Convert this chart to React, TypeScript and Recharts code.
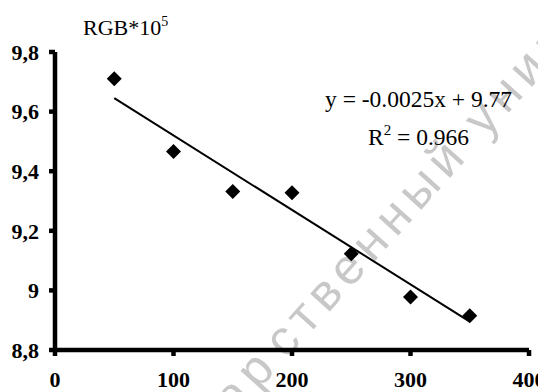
import { ComposedChart, Scatter, XAxis, YAxis } from 'recharts';

const xValues = [50, 100, 150, 200, 250, 300, 350];
const rgbValues = [9.71, 9.466, 9.332, 9.328, 9.123, 8.978, 8.915];
const trendX = [50, 350];
const trendY = [9.645, 8.895];
const xTicks = [0, 100, 200, 300, 400];
const yTicks = [8.8, 9, 9.2, 9.4, 9.6, 9.8];

const points = xValues.map((x, i) => ({ x, y: rgbValues[i] }));
const trend = trendX.map((x, i) => ({ x, y: trendY[i] }));

const serif = '"Liberation Serif", "Times New Roman", serif';

function Diamond({ cx, cy }: { cx?: number; cy?: number }) {
  if (cx == null || cy == null) return null;
  const r = 7.5;
  return (
    <polygon
      points={`${cx},${cy - r} ${cx + r},${cy} ${cx},${cy + r} ${cx - r},${cy}`}
      fill="#000"
    />
  );
}

const tickStyle = {
  fontFamily: serif,
  fontSize: 22,
  fontWeight: 700,
  fill: '#000',
};

// watermark behind the chart
const wmX = 286;
const wmY = 360;
const wmStyle = {
  fontFamily: '"Liberation Sans", Arial, sans-serif',
  fontSize: 50,
  letterSpacing: 7,
};

function App() {
  return (
    <div style={{ position: 'relative', margin: '-8px 0 0 -8px', width: 546, height: 392 }}>
      <svg width={546} height={392} style={{ position: 'absolute', left: 0, top: 0 }}>
        <g transform={`rotate(-48, ${wmX}, ${wmY})`} fill="#c8c8c8">
          <text x={wmX - 7} y={wmY} textAnchor="end" style={wmStyle}>
            государ
          </text>
          <text x={wmX} y={wmY} style={wmStyle}>
            ственный университет
          </text>
        </g>
      </svg>
      <ComposedChart
        width={546}
        height={392}
        margin={{ top: 52, right: 17, bottom: 0, left: 0 }}
        style={{ position: 'absolute', left: 0, top: 0 }}
      >
        <XAxis
          dataKey="x"
          type="number"
          domain={[0, 400]}
          ticks={xTicks}
          height={42}
          tickSize={6}
          tickMargin={15}
          stroke="#000"
          strokeWidth={4.5}
          tick={tickStyle}
          interval={0}
        />
        <YAxis
          dataKey="y"
          type="number"
          domain={[8.8, 9.8]}
          ticks={yTicks}
          width={55}
          tickSize={6}
          tickMargin={10}
          stroke="#000"
          strokeWidth={4.5}
          tick={tickStyle}
          interval={0}
          tickFormatter={(v: number) => String(Math.round(v * 10) / 10).replace('.', ',')}
        />
        <Scatter
          data={trend}
          line={{ stroke: '#000', strokeWidth: 2 }}
          shape={() => null}
          isAnimationActive={false}
        />
        <Scatter data={points} shape={<Diamond />} isAnimationActive={false} />
      </ComposedChart>
      <div
        style={{
          position: 'absolute',
          left: 83,
          top: 17,
          fontFamily: serif,
          fontSize: 22,
          whiteSpace: 'nowrap',
          lineHeight: 1,
        }}
      >
        RGB*10
        <span style={{ fontSize: 14, position: 'relative', top: -9 }}>5</span>
      </div>
      <div
        style={{
          position: 'absolute',
          left: 325,
          top: 88,
          fontFamily: serif,
          fontSize: 23.5,
          whiteSpace: 'nowrap',
          lineHeight: 1,
        }}
      >
        y = -0.0025x + 9.77
      </div>
      <div
        style={{
          position: 'absolute',
          left: 368,
          top: 126,
          fontFamily: serif,
          fontSize: 23.5,
          whiteSpace: 'nowrap',
          lineHeight: 1,
        }}
      >
        R<span style={{ fontSize: 15, position: 'relative', top: -10 }}>2</span> = 0.966
      </div>
    </div>
  );
}

export default App;
